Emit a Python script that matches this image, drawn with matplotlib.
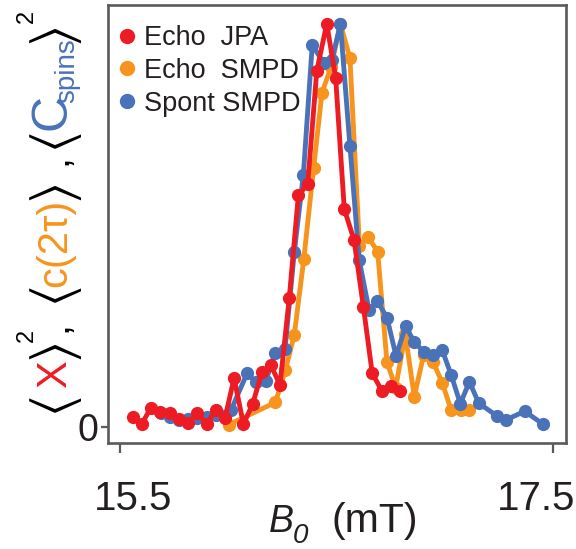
import matplotlib
matplotlib.use('Agg')
import matplotlib.pyplot as plt
from matplotlib.lines import Line2D
import matplotlib.transforms as mtransforms

W, H = 576, 549
plt.rcParams['font.family'] = ['Liberation Sans', 'DejaVu Sans']

# ---------------- data ----------------
red_x = [15.559, 15.600, 15.643, 15.685, 15.731, 15.773, 15.813, 15.857, 15.900, 15.942,
         15.985, 16.027, 16.070, 16.113, 16.155, 16.197, 16.239, 16.282, 16.324, 16.367,
         16.409, 16.455, 16.496, 16.536, 16.581, 16.624, 16.665, 16.709, 16.752, 16.793]
red_y = [0.025, 0.007, 0.048, 0.036, 0.034, 0.021, 0.009, 0.035, 0.007, 0.042,
         0.022, 0.121, 0.007, 0.057, 0.135, 0.153, 0.104, 0.320, 0.574, 0.601,
         0.882, 0.998, 0.865, 0.539, 0.463, 0.298, 0.133, 0.090, 0.102, 0.089]

orange_x = [16.003, 16.218, 16.264, 16.305, 16.349, 16.394, 16.433, 16.475, 16.518, 16.562,
            16.606, 16.647, 16.690, 16.733, 16.773, 16.818, 16.859, 16.903, 16.946, 16.988,
            17.029, 17.073, 17.114]
orange_y = [0.006, 0.061, 0.141, 0.228, 0.416, 0.640, 0.828, 0.891, 0.998, 0.913,
            0.448, 0.470, 0.434, 0.161, 0.097, 0.230, 0.075, 0.179, 0.161, 0.110,
            0.043, 0.042, 0.042]

blue_x = [15.689, 15.731, 15.773, 15.814, 15.856, 15.902, 15.943, 16.013, 16.087, 16.128,
          16.174, 16.216, 16.262, 16.305, 16.347, 16.388, 16.442, 16.479, 16.518, 16.562,
          16.605, 16.650, 16.689, 16.733, 16.775, 16.819, 16.860, 16.903, 16.946, 16.988,
          17.030, 17.072, 17.114, 17.157, 17.242, 17.285, 17.369, 17.454]
blue_y = [0.035, 0.025, 0.017, 0.020, 0.022, 0.025, 0.030, 0.042, 0.133, 0.111,
          0.115, 0.183, 0.192, 0.433, 0.625, 0.946, 0.900, 0.908, 0.998, 0.696,
          0.413, 0.290, 0.311, 0.271, 0.176, 0.249, 0.210, 0.186, 0.178, 0.191,
          0.128, 0.058, 0.112, 0.059, 0.027, 0.018, 0.039, 0.007]

series_labels = ["Echo  JPA", "Echo  SMPD", "Spont SMPD"]
xticks = [15.5, 17.5]
xtick_labels = ["15.5", "17.5"]
yticks = [0]
ytick_labels = ["0"]

RED = '#ED1C24'
ORANGE = '#F7941D'
BLUE = '#4A72B8'
FRAME = '#5a5a5a'
INK = '#231F20'

fig = plt.figure(figsize=(W / 100, H / 100), dpi=100)
ax = fig.add_axes([108 / W, 1 - 443 / H, (566 - 108) / W, (443 - 5) / H])

lw, ms = 3.5, 8.5
ax.plot(orange_x, orange_y, '-o', color=ORANGE, lw=lw, ms=ms, zorder=2)
ax.plot(blue_x, blue_y, '-o', color=BLUE, lw=lw, ms=ms, zorder=3)
ax.plot(red_x, red_y, '-o', color=RED, lw=lw, ms=ms, zorder=4)

ax.set_xlim(15.4446, 17.560)
ax.set_ylim(-0.0396, 1.0446)

for s in ax.spines.values():
    s.set_color(FRAME)
    s.set_linewidth(1.9)

ax.set_xticks(xticks)
ax.set_xticklabels(xtick_labels)
ax.set_yticks(yticks)
ax.set_yticklabels(ytick_labels)
ax.tick_params(axis='x', direction='out', length=7, width=1.6, color=FRAME,
               labelsize=29, pad=20, labelcolor=INK)
ax.tick_params(axis='y', direction='out', length=5, width=1.6, color=FRAME,
               labelsize=27, pad=2, labelcolor=INK)
shifts = [13, -17]
for lab, dx in zip(ax.get_xticklabels(), shifts):
    lab.set_transform(lab.get_transform() +
                      mtransforms.ScaledTranslation(dx / 100, 0, fig.dpi_scale_trans))

# legend (markers only)
handles = [Line2D([], [], ls='none', marker='o', color=c, ms=10) for c in (RED, ORANGE, BLUE)]
ax.legend(handles, series_labels, loc='upper left', frameon=False, fontsize=19.5,
          bbox_to_anchor=(119 / W, 1 - 25 / H), bbox_transform=fig.transFigure,
          borderpad=0, borderaxespad=0, handlelength=0.6, handletextpad=0.33,
          labelspacing=0.25)
for t in ax.get_legend().get_texts():
    t.set_color(INK)

ident = mtransforms.IdentityTransform()
# x label pieces: B (italic), subscript 0 (italic), (mT)
fig.text(269, H - 532, "B", style='italic', fontsize=27, color=INK, ha='left',
         va='baseline', transform=ident)
fig.text(293, H - 543, "0", style='italic', fontsize=20, color=INK, ha='left',
         va='baseline', transform=ident)
fig.text(331, H - 532, "(mT)", fontsize=29.5, color=INK, ha='left',
         va='baseline', transform=ident)

# y label built from colored pieces, rotated (centers along the figure height)
base_x = 66
BR = 'STIXGeneral'
LS = 'Liberation Sans'
pieces = [
    # text, color, size, x-offset of baseline, family, image-y center
    ("⟨", 'k', 40, 0, BR, 401),
    ("X", RED, 30, 0, LS, 374),
    ("⟩", 'k', 40, 0, BR, 348),
    ("2", 'k', 17, -33, LS, 335),
    (",", 'k', 28, 0, LS, 327),
    ("⟨", 'k', 40, 0, BR, 291),
    ("c(2τ)", ORANGE, 30, 0, LS, 243),
    ("⟩", 'k', 40, 0, BR, 189),
    (",", 'k', 28, 0, LS, 160),
    ("⟨", 'k', 40, 0, BR, 137),
    ("C", BLUE, 36, 0, LS, 112),
    ("spins", BLUE, 20, 8, LS, 71),
    ("⟩", 'k', 40, 0, BR, 32),
    ("2", 'k', 17, -33, LS, 16),
]
for txt, col, fs, dx, fam, yc in pieces:
    fig.text(base_x + dx, H - yc, txt, rotation=90, rotation_mode='anchor',
             ha='center', va='baseline', fontsize=fs, color=col,
             family=[fam, 'DejaVu Sans'], transform=ident)

fig.savefig('out.png', dpi=100)
